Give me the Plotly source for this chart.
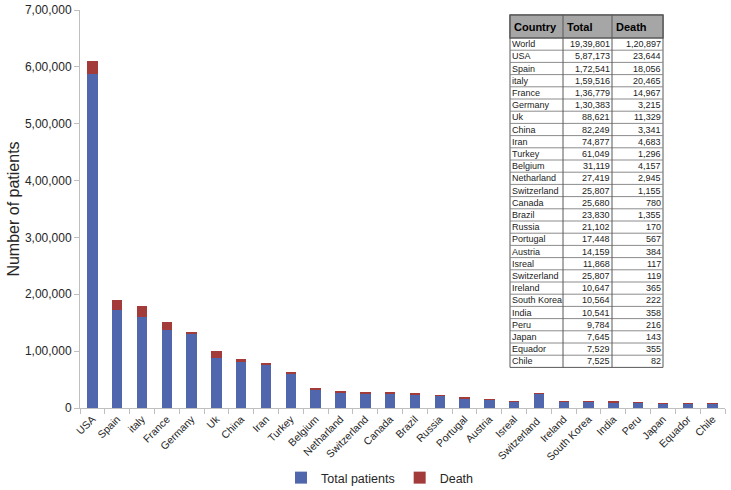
import plotly.graph_objects as go

countries = ['USA', 'Spain', 'italy', 'France', 'Germany', 'Uk', 'China', 'Iran',
             'Turkey', 'Belgium', 'Netharland', 'Switzerland', 'Canada', 'Brazil',
             'Russia', 'Portugal', 'Austria', 'Isreal', 'Switzerland ', 'Ireland',
             'South Korea', 'India', 'Peru', 'Japan', 'Equador', 'Chile']
total_patients = [587173, 172541, 159516, 136779, 130383, 88621, 82249, 74877,
                  61049, 31119, 27419, 25807, 25680, 23830, 21102, 17448, 14159,
                  11868, 25807, 10647, 10564, 10541, 9784, 7645, 7529, 7525]
deaths = [23644, 18056, 20465, 14967, 3215, 11329, 3341, 4683, 1296, 4157, 2945,
          1155, 780, 1355, 170, 567, 384, 117, 119, 365, 222, 358, 216, 143, 355, 82]

table_header = ['Country', 'Total', 'Death']
table_country = ['World'] + [c.strip() for c in countries]
table_total = ['19,39,801', '5,87,173', '1,72,541', '1,59,516', '1,36,779', '1,30,383',
               '88,621', '82,249', '74,877', '61,049', '31,119', '27,419', '25,807',
               '25,680', '23,830', '21,102', '17,448', '14,159', '11,868', '25,807',
               '10,647', '10,564', '10,541', '9,784', '7,645', '7,529', '7,525']
table_death = ['1,20,897', '23,644', '18,056', '20,465', '14,967', '3,215', '11,329',
               '3,341', '4,683', '1,296', '4,157', '2,945', '1,155', '780', '1,355',
               '170', '567', '384', '117', '119', '365', '222', '358', '216', '143',
               '355', '82']

y_ticks = [0, 100000, 200000, 300000, 400000, 500000, 600000, 700000]
y_ticktext = ['0', '1,00,000', '2,00,000', '3,00,000', '4,00,000', '5,00,000',
              '6,00,000', '7,00,000']

W, H = 731, 490
M_L, M_R, M_T, M_B = 80, 6, 10, 82
PW, PH = W - M_L - M_R, H - M_T - M_B


def px_x(x):
    return (x - M_L) / PW


def px_y(y):
    return (H - M_B - y) / PH


fig = go.Figure()

fig.add_trace(go.Bar(
    x=countries, y=total_patients, name='Total patients',
    marker=dict(color='#5067ad', line_width=0)
))
fig.add_trace(go.Bar(
    x=countries, y=deaths, name='Death',
    marker=dict(color='#a33b3b', line_width=0)
))

# inset table drawn with shapes + annotations
col_edges = [510, 563, 612, 663]
head_top, head_bot = 15, 38
row_h = 12.2
n_rows = len(table_country)
table_bot = head_bot + n_rows * row_h

shapes = [dict(type='rect', xref='paper', yref='paper',
               x0=px_x(col_edges[0]), x1=px_x(col_edges[-1]),
               y0=px_y(head_top), y1=px_y(table_bot),
               fillcolor='white', line=dict(color='#595959', width=1), layer='above'),
          dict(type='rect', xref='paper', yref='paper',
               x0=px_x(col_edges[0]), x1=px_x(col_edges[-1]),
               y0=px_y(head_top), y1=px_y(head_bot),
               fillcolor='#a6a6a6', line=dict(color='#595959', width=1.5), layer='above')]
for i in range(1, n_rows):
    y = head_bot + i * row_h
    shapes.append(dict(type='line', xref='paper', yref='paper',
                       x0=px_x(col_edges[0]), x1=px_x(col_edges[-1]),
                       y0=px_y(y), y1=px_y(y),
                       line=dict(color='#8c8c8c', width=1), layer='above'))
for x in col_edges[1:-1]:
    shapes.append(dict(type='line', xref='paper', yref='paper',
                       x0=px_x(x), x1=px_x(x),
                       y0=px_y(head_top), y1=px_y(table_bot),
                       line=dict(color='#595959', width=1), layer='above'))

annotations = []
for j, h in enumerate(table_header):
    annotations.append(dict(xref='paper', yref='paper', x=px_x(col_edges[j] + 3),
                            y=px_y((head_top + head_bot) / 2), text='<b>%s</b>' % h,
                            showarrow=False, xanchor='left', yanchor='middle',
                            font=dict(size=11, color='black')))
for i in range(n_rows):
    yc = px_y(head_bot + (i + 0.5) * row_h)
    annotations.append(dict(xref='paper', yref='paper', x=px_x(col_edges[0] + 1), y=yc,
                            text=table_country[i], showarrow=False, xanchor='left',
                            yanchor='middle', font=dict(size=9, color='#222222')))
    annotations.append(dict(xref='paper', yref='paper', x=px_x(col_edges[2] - 1), y=yc,
                            text=table_total[i], showarrow=False, xanchor='right',
                            yanchor='middle', font=dict(size=9, color='#222222')))
    annotations.append(dict(xref='paper', yref='paper', x=px_x(col_edges[3] - 1), y=yc,
                            text=table_death[i], showarrow=False, xanchor='right',
                            yanchor='middle', font=dict(size=9, color='#222222')))
for a in annotations:
    a['borderpad'] = 0

fig.update_layout(
    barmode='stack',
    bargap=0.58,
    width=W,
    height=H,
    margin=dict(l=M_L, r=M_R, t=M_T, b=M_B, autoexpand=False),
    plot_bgcolor='white',
    paper_bgcolor='white',
    font=dict(family='Liberation Sans', size=12, color='#262626'),
    shapes=shapes,
    annotations=annotations,
    showlegend=True,
    legend=dict(
        orientation='h',
        traceorder='normal',
        x=px_x(380), xanchor='center',
        y=px_y(478), yanchor='middle',
        font=dict(size=12.5),
        itemwidth=30
    ),
    xaxis=dict(
        automargin=False,
        showgrid=False,
        showline=True,
        linecolor='#bfbfbf',
        ticks='outside',
        tickson='boundaries',
        ticklen=5,
        tickcolor='#bfbfbf',
        tickangle=-45,
        tickfont=dict(size=10.5)
    ),
    yaxis=dict(
        automargin=False,
        range=[0, 700000],
        showgrid=False,
        showline=True,
        linecolor='#bfbfbf',
        ticks='outside',
        ticklen=5,
        tickcolor='#bfbfbf',
        tickvals=y_ticks,
        ticktext=y_ticktext,
        tickfont=dict(size=12),
        title=dict(text='Number of patients', font=dict(size=16), standoff=1)
    )
)

# the page's default body margin would push the 731x490 figure out of the window
fig.write_html("out.html", config={'displayModeBar': False},
               post_script="document.body.style.margin = '0';")
